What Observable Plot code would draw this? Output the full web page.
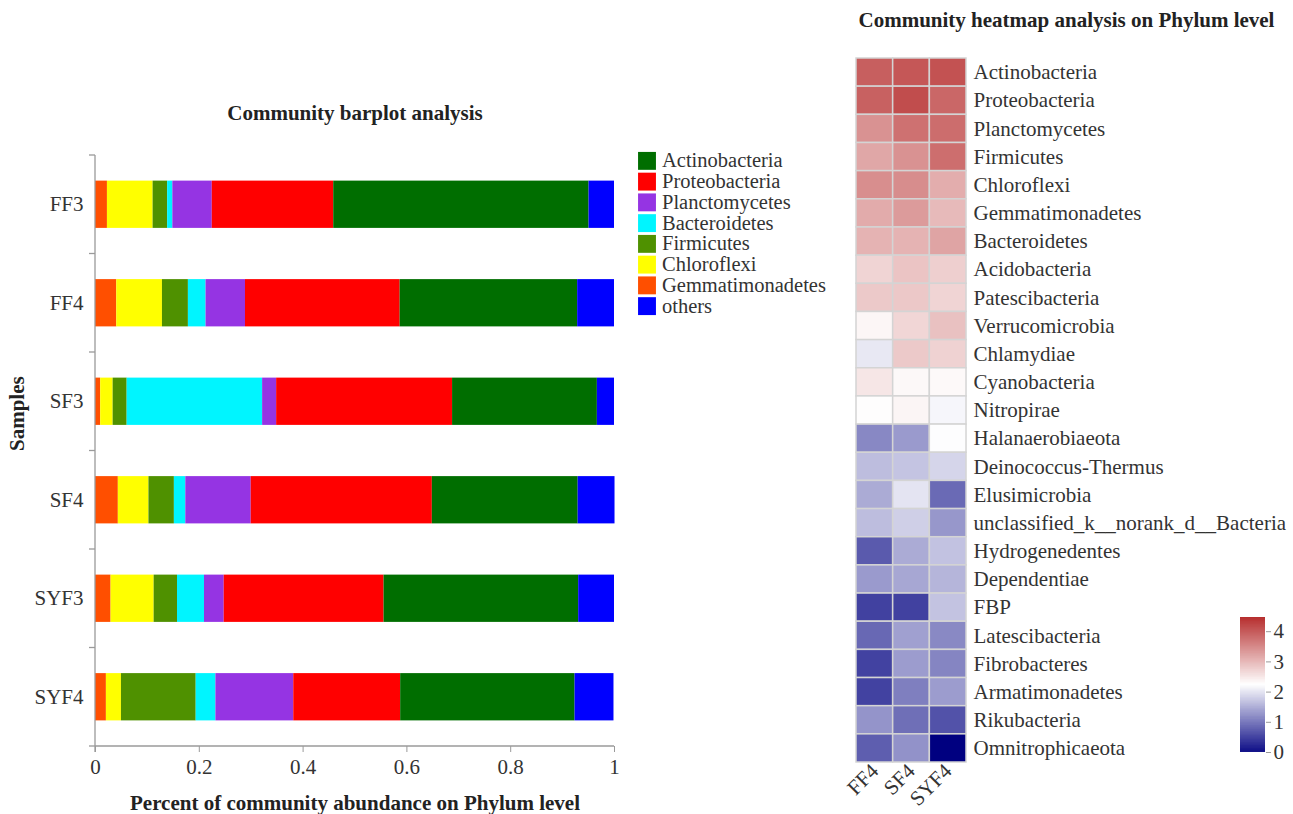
<!DOCTYPE html>
<html>
<head>
<meta charset="utf-8">
<script src="https://cdn.jsdelivr.net/npm/d3@7"></script>
<script src="https://cdn.jsdelivr.net/npm/@observablehq/plot@0.6"></script>
<style>
  html, body { margin: 0; padding: 0; background: #fff; }
  #page { position: relative; width: 1293px; height: 814px; overflow: hidden; font-family: "Liberation Serif", "Times New Roman", serif; }
  #page > * { position: absolute; }
  #bars { left: 0; top: 0; }
  #key { left: 637px; top: 150px; }
  #heat { left: 820px; top: 0; }
  #ramp { left: 1230px; top: 600px; }
</style>
</head>
<body>
<div id="page">
  <div id="bars"></div>
  <div id="key"></div>
  <div id="heat"></div>
  <div id="ramp"></div>
</div>
<script>
// ---- Community barplot: relative abundance per sample ----
const samples = ["FF3", "FF4", "SF3", "SF4", "SYF3", "SYF4"];

const actinobacteria   = [0.492, 0.342, 0.279, 0.281, 0.375, 0.336];
const proteobacteria   = [0.234, 0.298, 0.339, 0.349, 0.308, 0.206];
const planctomycetes   = [0.076, 0.076, 0.027, 0.126, 0.038, 0.150];
const bacteroidetes    = [0.010, 0.034, 0.261, 0.022, 0.052, 0.038];
const firmicutes       = [0.028, 0.050, 0.027, 0.049, 0.045, 0.144];
const chloroflexi      = [0.088, 0.088, 0.024, 0.059, 0.083, 0.029];
const gemmatimonadetes = [0.023, 0.041, 0.010, 0.044, 0.030, 0.021];
const others           = [0.049, 0.071, 0.033, 0.071, 0.069, 0.075];

const legendOrder = ["Actinobacteria", "Proteobacteria", "Planctomycetes", "Bacteroidetes",
                     "Firmicutes", "Chloroflexi", "Gemmatimonadetes", "others"];
const legendColors = ["#006e00", "#ff0000", "#9534e3", "#00f5ff",
                      "#4f9100", "#ffff00", "#ff4f00", "#0000ff"];
// left-to-right order of the segments inside each bar
const stackOrder = ["Gemmatimonadetes", "Chloroflexi", "Firmicutes", "Bacteroidetes",
                    "Planctomycetes", "Proteobacteria", "Actinobacteria", "others"];
const xTicks = [0, 0.2, 0.4, 0.6, 0.8, 1];

const seriesByName = {
  Actinobacteria: actinobacteria, Proteobacteria: proteobacteria,
  Planctomycetes: planctomycetes, Bacteroidetes: bacteroidetes,
  Firmicutes: firmicutes, Chloroflexi: chloroflexi,
  Gemmatimonadetes: gemmatimonadetes, others: others
};
const barData = samples.flatMap((sample, i) =>
  stackOrder.map(phylum => ({sample, phylum, value: seriesByName[phylum][i]})));

// ---- Heatmap: scaled abundance of the top phyla in three samples ----
const heatSamples = ["FF4", "SF4", "SYF4"];
const phyla = ["Actinobacteria", "Proteobacteria", "Planctomycetes", "Firmicutes", "Chloroflexi",
  "Gemmatimonadetes", "Bacteroidetes", "Acidobacteria", "Patescibacteria", "Verrucomicrobia",
  "Chlamydiae", "Cyanobacteria", "Nitropirae", "Halanaerobiaeota", "Deinococcus-Thermus",
  "Elusimicrobia", "unclassified_k__norank_d__Bacteria", "Hydrogenedentes", "Dependentiae", "FBP",
  "Latescibacteria", "Fibrobacteres", "Armatimonadetes", "Rikubacteria", "Omnitrophicaeota"];
const ff4Level  = [3.85, 3.83, 3.34, 3.13, 3.38, 3.08, 3.00, 2.67, 2.78, 2.33, 2.03, 2.49, 2.26,
                   1.19, 1.66, 1.50, 1.66, 0.79, 1.35, 0.57, 0.91, 0.58, 0.58, 1.30, 0.82];
const sf4Level  = [3.93, 4.04, 3.67, 3.34, 3.39, 3.25, 3.00, 2.83, 2.79, 2.65, 2.78, 2.31, 2.34,
                   1.35, 1.72, 2.00, 1.81, 1.50, 1.46, 0.57, 1.40, 1.37, 1.11, 0.97, 1.28];
const syf4Level = [3.98, 3.77, 3.71, 3.70, 3.06, 2.93, 3.16, 2.72, 2.67, 2.86, 2.69, 2.30, 2.16,
                   2.22, 1.87, 0.93, 1.32, 1.70, 1.59, 1.71, 1.20, 1.17, 1.37, 0.72, 0.00];
const rampTicks = [0, 1, 2, 3, 4];
const rampMax = 4.47;

const levelBySample = {FF4: ff4Level, SF4: sf4Level, SYF4: syf4Level};
const heatData = phyla.flatMap((phylum, i) =>
  heatSamples.map(sample => ({sample, phylum, level: levelBySample[sample][i]})));

const heatScale = {
  type: "linear",
  domain: [0, rampMax / 2, rampMax],
  range: ["#000080", "#ffffff", "#b22222"]
};

const serif = "'Liberation Serif', 'Times New Roman', serif";
const baseStyle = {
  fontFamily: serif,
  fontSize: "21px",
  color: "#333",
  background: "transparent",
  overflow: "visible"
};
const titleText = {fontWeight: "bold", fontSize: 21, fill: "#222", lineAnchor: "middle"};

// Axis lines plus tick marks on the boundaries between sample bands
function sampleAxisFrame(index, scales, values, dims) {
  const y = scales.y;
  const bw = y.bandwidth();
  const step = y.step ? y.step() : bw / (1 - 0.52);
  const gap = (step - bw) / 2;
  const left = dims.marginLeft;
  const right = dims.width - dims.marginRight;
  const top = dims.marginTop;
  const bottom = dims.height - dims.marginBottom;
  const g = d3.create("svg:g").attr("stroke", "#9a9a9a").attr("stroke-width", 1.3).attr("fill", "none");
  g.append("line").attr("x1", left).attr("x2", left).attr("y1", top).attr("y2", bottom + 6);
  g.append("line").attr("x1", left).attr("x2", right).attr("y1", bottom).attr("y2", bottom);
  const edges = y.domain().map(d => y(d) - gap);
  edges.push(edges[edges.length - 1] + step);
  for (const e of edges) {
    g.append("line").attr("x1", left - 6).attr("x2", left).attr("y1", e).attr("y2", e);
  }
  return g.node();
}

const bars = Plot.plot({
  width: 620,
  height: 814,
  marginLeft: 95,
  marginRight: 6,
  marginTop: 155,
  marginBottom: 68,
  style: baseStyle,
  x: {domain: [0, 1]},
  y: {domain: samples, paddingInner: 0.52, paddingOuter: 0.26, round: false},
  color: {domain: legendOrder, range: legendColors},
  marks: [
    Plot.barX(barData, Plot.stackX({x: "value", y: "sample", fill: "phylum", order: stackOrder})),
    sampleAxisFrame,
    Plot.axisX({ticks: xTicks, tickFormat: d => String(d), tickSize: 6, tickPadding: 7,
                stroke: "#9a9a9a", fill: "#333", label: null}),
    Plot.axisY({tickSize: 0, tickPadding: 12, fill: "#333", label: null}),
    Plot.text(["Community barplot analysis"], {frameAnchor: "top", dy: -42, ...titleText}),
    Plot.text(["Percent of community abundance on Phylum level"],
      {frameAnchor: "bottom", dy: 57, ...titleText}),
    Plot.text(["Samples"], {frameAnchor: "left", dx: -78, rotate: -90, ...titleText})
  ]
});
document.getElementById("bars").append(bars);

// Phylum colour key: one square swatch and one label per band
const key = Plot.plot({
  width: 200,
  height: 166,
  margin: 0,
  style: {...baseStyle, fontSize: "20.5px"},
  x: {axis: null},
  y: {type: "band", domain: legendOrder, padding: 0, axis: null, round: false},
  color: {domain: legendOrder, range: legendColors},
  marks: [
    Plot.dot(legendOrder, {y: d => d, frameAnchor: "left", dx: 9.5, symbol: "square",
                           r: 10.1, fill: d => d, stroke: null}),
    Plot.text(legendOrder, {y: d => d, frameAnchor: "left", dx: 24.5, textAnchor: "start",
                            fill: "#333", fontSize: 20.5})
  ]
});
document.getElementById("key").append(key);

const heat = Plot.plot({
  width: 473,
  height: 814,
  marginLeft: 36,
  marginRight: 327,
  marginTop: 58,
  marginBottom: 52,
  style: baseStyle,
  x: {domain: heatSamples, padding: 0, round: false},
  y: {domain: phyla, padding: 0, round: false},
  color: heatScale,
  marks: [
    Plot.cell(heatData, {x: "sample", y: "phylum", fill: "level", inset: 0,
                         stroke: "#d4d4d4", strokeWidth: 1.5}),
    Plot.axisY({anchor: "right", tickSize: 0, tickPadding: 7, fill: "#333", label: null}),
    Plot.axisX({anchor: "bottom", tickRotate: -45, tickSize: 0, tickPadding: 5, fill: "#333", label: null}),
    Plot.text(["Community heatmap analysis on Phylum level"],
      {frameAnchor: "top-left", dx: 2, dy: -38, textAnchor: "start", ...titleText})
  ]
});
document.getElementById("heat").append(heat);

// Vertical colour ramp for the heatmap scale
const rampSteps = d3.range(0, rampMax, 0.01);
const ramp = Plot.plot({
  width: 63,
  height: 170,
  marginLeft: 10,
  marginRight: 28,
  marginTop: 17,
  marginBottom: 18,
  style: baseStyle,
  x: {domain: [0, 1], axis: null},
  y: {domain: [0, rampMax]},
  color: heatScale,
  marks: [
    Plot.rect(rampSteps, {x1: 0, x2: 1, y1: d => d, y2: d => Math.min(d + 0.02, rampMax), fill: d => d}),
    Plot.axisY({anchor: "right", ticks: rampTicks, tickFormat: d => String(d), tickSize: 5, tickPadding: 3,
                stroke: "#9a9a9a", fill: "#333", label: null})
  ]
});
document.getElementById("ramp").append(ramp);
</script>
</body>
</html>
